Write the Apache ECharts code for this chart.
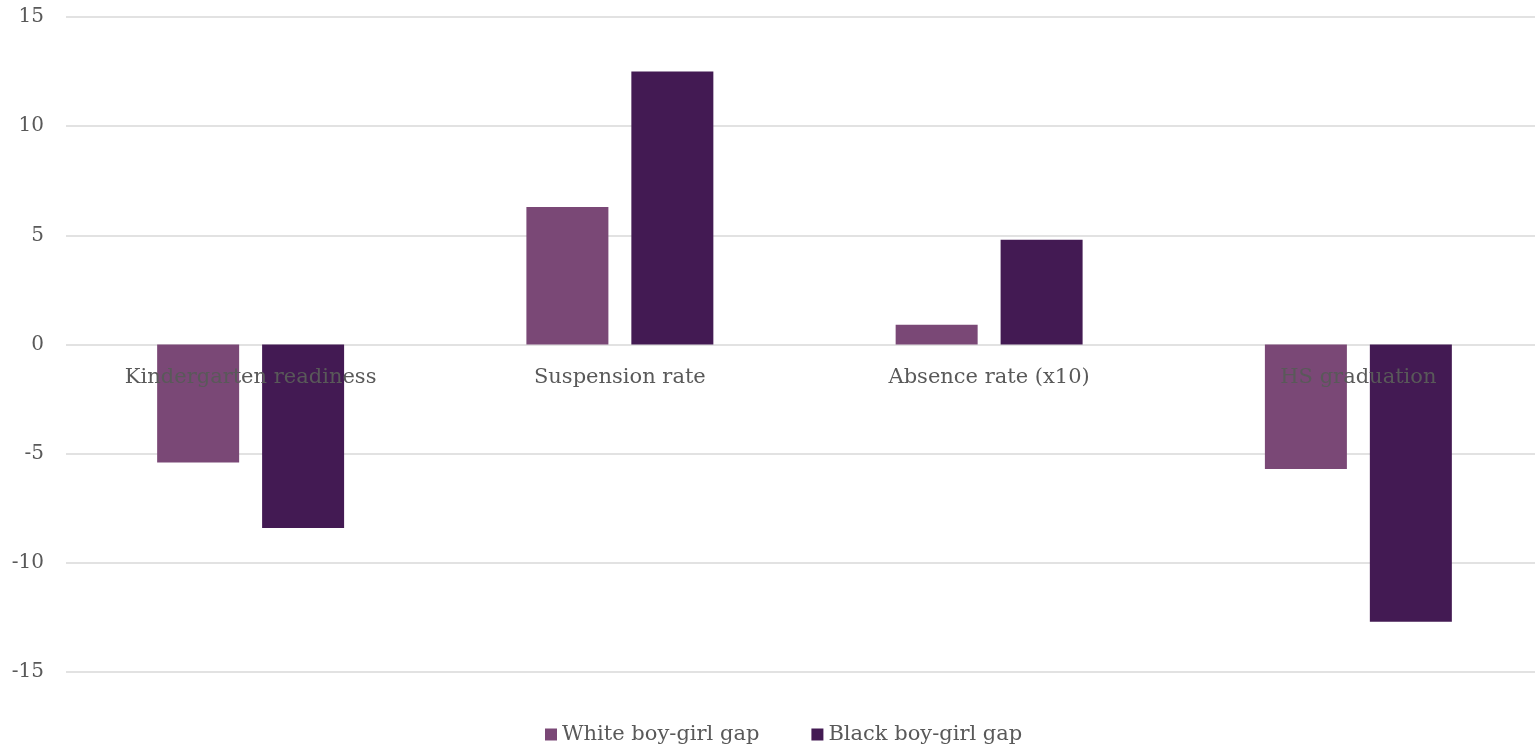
<!DOCTYPE html>
<html>
<head>
<meta charset="utf-8">
<script src="https://cdn.jsdelivr.net/npm/echarts@6/dist/echarts.min.js"></script>
<style>
html,body{margin:0;padding:0;background:#fff;overflow:hidden;}
#chart{width:1535px;height:749px;}
</style>
</head>
<body>
<div id="chart"></div>
<script>
const categories = ["Kindergarten readiness", "Suspension rate", "Absence rate (x10)", "HS graduation"];
const whiteGap = [-5.4, 6.3, 0.9, -5.7];
const blackGap = [-8.4, 12.5, 4.8, -12.7];
const seriesNames = ["White boy-girl gap", "Black boy-girl gap"];

const FONT = "'DejaVu Serif', serif";
const chart = echarts.init(document.getElementById('chart'));
chart.setOption({
  animation: false,
  textStyle: { fontFamily: FONT },
  grid: { left: 66, width: 1477, top: 17, height: 655, containLabel: false, outerBoundsMode: 'none' },
  legend: {
    top: 724,
    left: 545,
    icon: 'rect',
    itemWidth: 12,
    itemHeight: 12,
    itemGap: 52,
    padding: 0,
    textStyle: { fontFamily: FONT, fontSize: 21, color: '#595959' },
    data: seriesNames
  },
  xAxis: {
    type: 'category',
    data: categories,
    z: 10,
    offset: -327,
    axisLine: { show: false, onZero: false },
    axisTick: { show: false },
    axisLabel: { fontFamily: FONT, fontSize: 21, color: '#595959', margin: 22 }
  },
  yAxis: {
    type: 'value',
    min: -15, max: 15, interval: 5,
    axisLine: { show: false },
    axisTick: { show: false },
    splitLine: { lineStyle: { color: '#d9d9d9', width: 1.5 } },
    axisLabel: { fontFamily: FONT, fontSize: 20, color: '#595959', margin: 22 }
  },
  series: [
    { name: seriesNames[0], type: 'bar', data: whiteGap, barWidth: 82, barGap: '28%', itemStyle: { color: '#7A4876' } },
    { name: seriesNames[1], type: 'bar', data: blackGap, barWidth: 82, barGap: '28%', itemStyle: { color: '#431A53' } }
  ]
});
</script>
</body>
</html>
